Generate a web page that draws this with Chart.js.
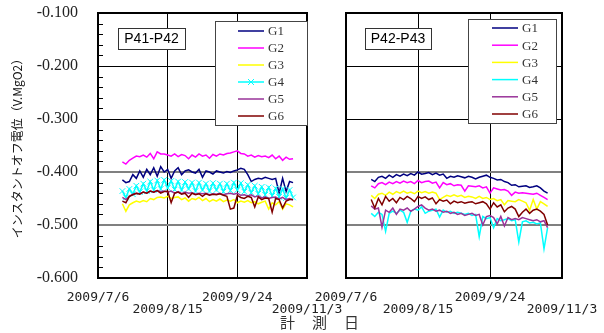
<!DOCTYPE html>
<html>
<head>
<meta charset="utf-8">
<script src="https://cdn.jsdelivr.net/npm/chart.js@4.4.1/dist/chart.umd.min.js"></script>
<style>
  html, body { margin: 0; padding: 0; background: #fff; }
  #wrap { position: relative; width: 604px; height: 333px; overflow: hidden; }
  #wrap canvas { position: absolute; left: 0; top: 0; }
  #xtitle { position: absolute; left: 280px; top: 313px; font: 15px "Noto Sans CJK JP"; letter-spacing: 1px;
            line-height: 18px; color: #333; white-space: nowrap; }
</style>
</head>
<body>
<div id="wrap">
  <canvas id="leftChart" width="604" height="333"></canvas>
  <canvas id="rightChart" width="604" height="333"></canvas>
  <div id="xtitle">計　測　日</div>
</div>
<script>
// measurement days, counted from 2009/7/6
const measureDays = [14,16,18,20,22,24,26,28,30,32,34,36,38,40,42,44,46,48,50,52,
                     54,56,58,60,62,64,66,68,70,72,74,76,78,80,82,84,86,88,90,92,
                     94,96,98,100,102,104,106,108,110,112];
const xTickLabels = ["2009/7/6", "2009/8/15", "2009/9/24", "2009/11/3"];
const yMinorTicks = [-0.12,-0.14,-0.16,-0.18,-0.22,-0.24,-0.26,-0.28,-0.32,-0.34,-0.36,-0.38,
                     -0.42,-0.44,-0.46,-0.48,-0.52,-0.54,-0.56,-0.58];
const seriesNames = ["G1", "G2", "G3", "G4", "G5", "G6"];
const seriesColors = ["#000080", "#ff00ff", "#ffff00", "#00ffff", "#993399", "#800000"];

// P41-P42
const leftG1 = [-0.415,-0.420,-0.418,-0.405,-0.412,-0.398,-0.410,-0.395,-0.405,-0.392,
                -0.408,-0.390,-0.400,-0.395,-0.412,-0.398,-0.392,-0.405,-0.398,-0.396,
                -0.400,-0.402,-0.395,-0.410,-0.398,-0.400,-0.404,-0.398,-0.400,-0.402,
                -0.399,-0.401,-0.398,-0.396,-0.393,-0.395,-0.405,-0.418,-0.414,-0.412,
                -0.413,-0.410,-0.412,-0.414,-0.412,-0.440,-0.412,-0.437,-0.418,-0.420];
const leftG2 = [-0.381,-0.385,-0.378,-0.374,-0.370,-0.371,-0.368,-0.372,-0.365,-0.375,
                -0.362,-0.366,-0.366,-0.368,-0.370,-0.366,-0.371,-0.367,-0.369,-0.375,
                -0.368,-0.372,-0.366,-0.370,-0.368,-0.374,-0.367,-0.370,-0.366,-0.368,
                -0.365,-0.364,-0.362,-0.360,-0.365,-0.366,-0.370,-0.368,-0.372,-0.369,
                -0.371,-0.370,-0.373,-0.368,-0.375,-0.370,-0.378,-0.372,-0.376,-0.375];
const leftG3 = [-0.460,-0.474,-0.462,-0.458,-0.455,-0.457,-0.454,-0.456,-0.450,-0.452,
                -0.448,-0.447,-0.449,-0.446,-0.450,-0.448,-0.447,-0.452,-0.449,-0.455,
                -0.450,-0.452,-0.448,-0.454,-0.450,-0.456,-0.452,-0.455,-0.451,-0.456,
                -0.453,-0.455,-0.452,-0.458,-0.455,-0.457,-0.454,-0.458,-0.456,-0.460,
                -0.457,-0.455,-0.470,-0.458,-0.462,-0.456,-0.470,-0.460,-0.462,-0.466];
const leftG4 = [-0.436,-0.448,-0.432,-0.442,-0.426,-0.438,-0.422,-0.436,-0.418,-0.434,
                -0.416,-0.432,-0.415,-0.430,-0.417,-0.433,-0.418,-0.434,-0.419,-0.432,
                -0.420,-0.436,-0.420,-0.434,-0.422,-0.436,-0.421,-0.434,-0.422,-0.437,
                -0.422,-0.435,-0.420,-0.434,-0.421,-0.437,-0.424,-0.439,-0.426,-0.441,
                -0.428,-0.443,-0.429,-0.445,-0.431,-0.447,-0.432,-0.449,-0.434,-0.448];
const leftG5 = [-0.448,-0.452,-0.446,-0.442,-0.440,-0.441,-0.438,-0.440,-0.436,-0.438,
                -0.435,-0.437,-0.436,-0.438,-0.436,-0.440,-0.437,-0.441,-0.438,-0.440,
                -0.439,-0.442,-0.440,-0.441,-0.440,-0.443,-0.441,-0.442,-0.440,-0.443,
                -0.441,-0.440,-0.442,-0.440,-0.444,-0.443,-0.445,-0.443,-0.447,-0.445,
                -0.449,-0.447,-0.450,-0.448,-0.447,-0.451,-0.448,-0.452,-0.450,-0.453];
const leftG6 = [-0.455,-0.458,-0.446,-0.443,-0.440,-0.442,-0.438,-0.440,-0.436,-0.438,
                -0.435,-0.440,-0.437,-0.436,-0.458,-0.440,-0.438,-0.442,-0.440,-0.448,
                -0.440,-0.443,-0.441,-0.446,-0.441,-0.444,-0.442,-0.443,-0.441,-0.444,
                -0.446,-0.470,-0.468,-0.444,-0.448,-0.450,-0.446,-0.448,-0.466,-0.447,
                -0.452,-0.449,-0.450,-0.476,-0.450,-0.452,-0.468,-0.455,-0.452,-0.452];

// P42-P43
const rightG1 = [-0.414,-0.418,-0.410,-0.408,-0.412,-0.406,-0.410,-0.405,-0.408,-0.404,
                 -0.407,-0.403,-0.406,-0.400,-0.404,-0.403,-0.401,-0.405,-0.402,-0.406,
                 -0.404,-0.412,-0.408,-0.410,-0.407,-0.409,-0.411,-0.408,-0.410,-0.413,
                 -0.410,-0.408,-0.406,-0.410,-0.412,-0.415,-0.414,-0.418,-0.420,-0.425,
                 -0.424,-0.428,-0.427,-0.426,-0.429,-0.428,-0.426,-0.430,-0.436,-0.440];
const rightG2 = [-0.426,-0.430,-0.422,-0.420,-0.424,-0.419,-0.422,-0.418,-0.421,-0.417,
                 -0.420,-0.418,-0.422,-0.416,-0.420,-0.418,-0.417,-0.421,-0.419,-0.430,
                 -0.420,-0.424,-0.422,-0.426,-0.424,-0.425,-0.436,-0.426,-0.427,-0.428,
                 -0.426,-0.430,-0.428,-0.440,-0.430,-0.432,-0.434,-0.433,-0.436,-0.444,
                 -0.438,-0.440,-0.439,-0.440,-0.441,-0.442,-0.440,-0.444,-0.448,-0.452];
const rightG3 = [-0.444,-0.450,-0.442,-0.440,-0.444,-0.438,-0.442,-0.437,-0.440,-0.436,
                 -0.440,-0.438,-0.441,-0.436,-0.439,-0.437,-0.440,-0.438,-0.440,-0.452,
                 -0.448,-0.444,-0.446,-0.443,-0.446,-0.444,-0.448,-0.446,-0.447,-0.450,
                 -0.446,-0.450,-0.448,-0.452,-0.450,-0.454,-0.452,-0.462,-0.454,-0.455,
                 -0.456,-0.452,-0.455,-0.458,-0.472,-0.452,-0.470,-0.456,-0.460,-0.465];
const rightG4 = [-0.478,-0.484,-0.476,-0.480,-0.512,-0.478,-0.474,-0.478,-0.472,-0.476,
                 -0.495,-0.474,-0.470,-0.472,-0.466,-0.478,-0.474,-0.472,-0.470,-0.485,
                 -0.472,-0.476,-0.474,-0.478,-0.476,-0.478,-0.480,-0.478,-0.482,-0.480,
                 -0.522,-0.484,-0.488,-0.486,-0.505,-0.488,-0.492,-0.490,-0.488,-0.492,
                 -0.490,-0.532,-0.494,-0.492,-0.496,-0.495,-0.498,-0.496,-0.545,-0.505];
const rightG5 = [-0.464,-0.470,-0.468,-0.504,-0.472,-0.476,-0.468,-0.480,-0.470,-0.472,
                 -0.468,-0.474,-0.470,-0.465,-0.462,-0.468,-0.472,-0.470,-0.474,-0.472,
                 -0.476,-0.474,-0.478,-0.476,-0.480,-0.478,-0.482,-0.480,-0.478,-0.482,
                 -0.480,-0.500,-0.484,-0.482,-0.486,-0.498,-0.484,-0.502,-0.486,-0.490,
                 -0.488,-0.490,-0.486,-0.488,-0.490,-0.492,-0.490,-0.494,-0.492,-0.505];
const rightG6 = [-0.452,-0.468,-0.450,-0.462,-0.446,-0.455,-0.450,-0.458,-0.448,-0.452,
                 -0.446,-0.450,-0.456,-0.446,-0.450,-0.447,-0.452,-0.449,-0.460,-0.452,
                 -0.455,-0.453,-0.460,-0.455,-0.458,-0.456,-0.459,-0.457,-0.456,-0.460,
                 -0.458,-0.456,-0.460,-0.470,-0.458,-0.466,-0.462,-0.475,-0.468,-0.465,
                 -0.470,-0.484,-0.476,-0.470,-0.478,-0.472,-0.470,-0.474,-0.480,-0.500];

// frame, minor ticks, name box and legend box
const panelDecor = {
  id: "panelDecor",
  afterDatasetsDraw(chart, args, opts) {
    const ctx = chart.ctx;
    const a = chart.chartArea;
    ctx.save();
    if (opts.minorTicks) {
      const ys = chart.scales.y;
      ctx.strokeStyle = "#000";
      ctx.lineWidth = 1;
      yMinorTicks.forEach(v => {
        const py = Math.round(ys.getPixelForValue(v)) + 0.5;
        ctx.beginPath();
        ctx.moveTo(a.left, py);
        ctx.lineTo(a.left + 5, py);
        ctx.stroke();
      });
    }
    ctx.strokeStyle = "#000";
    ctx.lineWidth = 2;
    ctx.strokeRect(a.left, a.top, a.right - a.left, a.bottom - a.top);

    // panel name
    const nb = opts.nameBox;
    ctx.fillStyle = "#fff";
    ctx.fillRect(nb.x, nb.y, nb.w, nb.h);
    ctx.strokeStyle = "#333";
    ctx.lineWidth = 1;
    ctx.strokeRect(nb.x + 0.5, nb.y + 0.5, nb.w, nb.h);
    ctx.fillStyle = "#000";
    ctx.font = "14px 'Liberation Sans'";
    ctx.textAlign = "center";
    ctx.textBaseline = "middle";
    ctx.fillText(opts.name, nb.x + nb.w / 2, nb.y + nb.h / 2 + 1);

    // legend
    const lg = opts.legend;
    ctx.fillStyle = "#fff";
    ctx.fillRect(lg.x, lg.y, lg.w, lg.h);
    ctx.strokeStyle = "#444";
    ctx.lineWidth = 1;
    ctx.strokeRect(lg.x + 0.5, lg.y + 0.5, lg.w, lg.h);
    ctx.font = "13px 'Liberation Serif'";
    ctx.textAlign = "left";
    chart.data.datasets.forEach((ds, i) => {
      const y = lg.y + lg.first + i * lg.step;
      ctx.strokeStyle = ds.borderColor;
      ctx.lineWidth = 1.5;
      ctx.beginPath();
      ctx.moveTo(lg.x + lg.lineX, y);
      ctx.lineTo(lg.x + lg.lineX + 26, y);
      ctx.stroke();
      if (ds.pointStyle === "crossRot") {
        const cx = lg.x + lg.lineX + 13;
        ctx.lineWidth = 1;
        ctx.beginPath();
        ctx.moveTo(cx - 3, y - 3); ctx.lineTo(cx + 3, y + 3);
        ctx.moveTo(cx - 3, y + 3); ctx.lineTo(cx + 3, y - 3);
        ctx.stroke();
      }
      ctx.fillStyle = "#333";
      ctx.fillText(ds.label, lg.x + lg.lineX + 30, y + 1);
    });
    ctx.restore();
  }
};

function makePanel(canvasId, series, o) {
  const datasets = series.map((vals, i) => ({
    label: seriesNames[i],
    data: measureDays.map((d, k) => ({ x: d, y: vals[k] })),
    borderColor: seriesColors[i],
    backgroundColor: seriesColors[i],
    borderWidth: 1.5,
    pointRadius: (o.markG4 && i === 3) ? 4 : 0,
    pointStyle: (o.markG4 && i === 3) ? "crossRot" : "circle",
    pointBorderWidth: 1,
    order: 6 - i
  }));

  return new Chart(document.getElementById(canvasId), {
    type: "line",
    data: { datasets: datasets },
    options: {
      responsive: false,
      animation: false,
      devicePixelRatio: 1,
      layout: { padding: { left: 0, top: 13, right: o.padRight, bottom: 0 } },
      plugins: {
        legend: { display: false },
        tooltip: { enabled: false },
        panelDecor: o.decor
      },
      scales: {
        x: {
          type: "linear",
          min: 0, max: 120,
          border: { display: false },
          grid: {
            drawTicks: false,
            color: c => (c.tick.value === 40 || c.tick.value === 80) ? "#000" : "rgba(0,0,0,0)",
            lineWidth: 1
          },
          ticks: {
            stepSize: 40,
            autoSkip: false,
            maxRotation: 0,
            padding: 14,
            color: "#222",
            font: { family: "'DejaVu Sans Mono'", size: 13, lineHeight: "12px" },
            callback: (v, i) => i % 2 === 0 ? [xTickLabels[i], ""] : ["", xTickLabels[i]]
          },
          afterFit: s => { s.height = 55; s.paddingLeft = 0; s.paddingRight = 0; }
        },
        y: {
          min: -0.6, max: -0.1,
          border: { display: false },
          grid: {
            drawTicks: false,
            color: c => {
              const k = Math.round(c.tick.value * 10);
              if (k === -4 || k === -5) return "#808080";
              if (k === -2 || k === -3) return "#000";
              return "rgba(0,0,0,0)";
            },
            lineWidth: c => {
              const k = Math.round(c.tick.value * 10);
              return (k === -4 || k === -5) ? 2 : 1;
            }
          },
          ticks: {
            display: o.showY,
            stepSize: 0.1,
            padding: 20,
            color: "#222",
            font: { family: "'Liberation Serif'", size: 16 },
            callback: v => v.toFixed(3)
          },
          title: {
            display: o.showY,
            text: "インスタントオフ電位（V.MgO2）",
            color: "#111",
            font: { family: "'Noto Sans CJK JP'", size: 12 },
            padding: { top: 10, bottom: 0 }
          },
          afterFit: s => { s.width = o.yWidth; s.paddingTop = 0; s.paddingBottom = 0; }
        }
      }
    },
    plugins: [panelDecor]
  });
}

makePanel("leftChart", [leftG1, leftG2, leftG3, leftG4, leftG5, leftG6], {
  padRight: 297, yWidth: 98, showY: true, markG4: true,
  decor: {
    minorTicks: true,
    name: "P41-P42",
    nameBox: { x: 118, y: 28, w: 67, h: 21 },
    legend: { x: 215, y: 21, w: 92, h: 104, lineX: 23, first: 10, step: 17 }
  }
});

makePanel("rightChart", [rightG1, rightG2, rightG3, rightG4, rightG5, rightG6], {
  padRight: 42, yWidth: 346, showY: false, markG4: false,
  decor: {
    minorTicks: false,
    name: "P42-P43",
    nameBox: { x: 365, y: 28, w: 66, h: 21 },
    legend: { x: 468, y: 19, w: 88, h: 104, lineX: 24, first: 9, step: 17.2 }
  }
});
</script>
</body>
</html>
